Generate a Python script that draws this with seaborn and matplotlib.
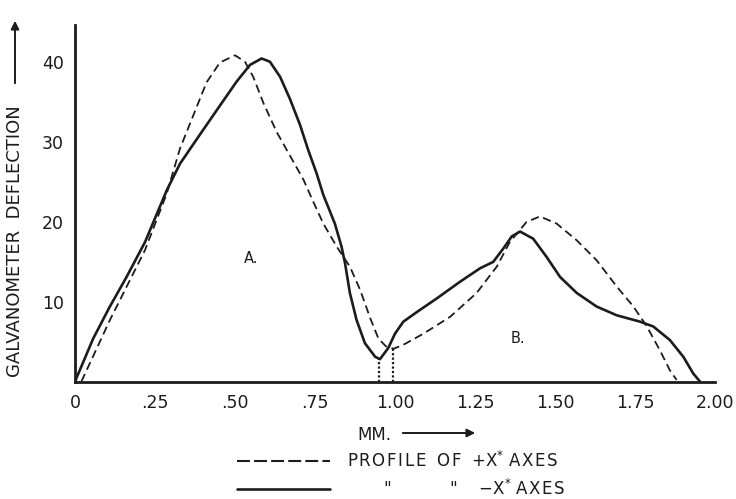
import matplotlib
matplotlib.use("Agg")
import matplotlib.pyplot as plt
from matplotlib.lines import Line2D
import seaborn as sns
import pandas as pd

# ---- data ----
solid_x = [0.0, 0.057, 0.109, 0.161, 0.219, 0.287, 0.328, 0.391, 0.453, 0.505,
           0.547, 0.583, 0.609, 0.641, 0.672, 0.703, 0.729, 0.755, 0.776, 0.812,
           0.833, 0.844, 0.859, 0.880, 0.906, 0.938, 0.953, 0.979, 1.000, 1.026,
           1.068, 1.130, 1.203, 1.266, 1.307, 1.339, 1.365, 1.391, 1.432, 1.474,
           1.516, 1.568, 1.630, 1.693, 1.766, 1.807, 1.859, 1.901, 1.932, 1.953]
solid_y = [0.0, 5.4, 9.4, 13.1, 17.5, 24.0, 27.3, 31.0, 34.6, 37.6,
           39.7, 40.5, 40.1, 38.2, 35.4, 32.2, 29.0, 26.1, 23.4, 19.8,
           16.9, 14.8, 11.1, 7.7, 4.8, 3.1, 2.8, 4.2, 6.0, 7.5,
           8.7, 10.4, 12.5, 14.2, 15.0, 16.7, 18.2, 18.8, 17.9, 15.6,
           13.1, 11.1, 9.4, 8.3, 7.5, 6.9, 5.2, 3.1, 1.0, 0.0]

dashed_x = [0.02, 0.109, 0.219, 0.287, 0.328, 0.370, 0.411, 0.453, 0.500, 0.531,
            0.557, 0.589, 0.630, 0.672, 0.714, 0.745, 0.776, 0.818, 0.859, 0.891,
            0.922, 0.948, 0.972, 0.995, 1.026, 1.089, 1.172, 1.255, 1.318, 1.359,
            1.411, 1.453, 1.505, 1.568, 1.630, 1.693, 1.745, 1.787, 1.828, 1.859,
            1.880]
dashed_y = [0.0, 7.7, 16.5, 23.6, 29.2, 33.4, 37.5, 40.0, 40.9, 40.1,
            38.2, 34.9, 31.3, 28.3, 25.3, 22.5, 19.8, 16.9, 14.4, 11.5,
            8.0, 5.4, 4.4, 4.1, 4.6, 6.0, 8.1, 11.1, 14.4, 17.5,
            20.0, 20.7, 19.8, 17.7, 15.2, 11.9, 9.4, 6.9, 3.9, 1.4,
            0.2]

# minima marked with dotted drop lines
minima_x = [0.950, 0.995]
minima_y = [2.8, 4.1]

x_ticks = [0, 0.25, 0.5, 0.75, 1.0, 1.25, 1.5, 1.75, 2.0]
x_ticklabels = ["0", ".25", ".50", ".75", "1.00", "1.25", "1.50", "1.75", "2.00"]
y_ticks = [10, 20, 30, 40]
y_ticklabels = ["10", "20", "30", "40"]

region_labels = ["A.", "B."]
region_pos = [(0.552, 15.4), (1.385, 5.4)]

HS = "\u200a"  # hair space used as letter spacing


def sp(word):
    return HS.join(word)


legend_labels = [f"{sp('PROFILE')}  {sp('OF')}  +X$^{{*}}$ {sp('AXES')}",
                 "       \"           \"    \u2212X$^{*}$ " + sp("AXES")]

# ---- drawing ----
sns.set_theme(style="white")
plt.rcParams["font.family"] = ["DejaVu Sans"]
ink = "#1c1c1c"

W, H = 736, 499
fig = plt.figure(figsize=(W / 100, H / 100), dpi=100)
fig.patch.set_facecolor("white")
ax = fig.add_axes([75 / W, 1 - 381.5 / H, (715 - 75) / W, (381.5 - 25) / H])
ax.set_facecolor("white")

df_d = pd.DataFrame({"x": dashed_x, "y": dashed_y})
df_s = pd.DataFrame({"x": solid_x, "y": solid_y})
sns.lineplot(data=df_d, x="x", y="y", ax=ax, color=ink, lw=1.3,
             estimator=None, sort=False, linestyle=(0, (4.6, 2.6)))
sns.lineplot(data=df_s, x="x", y="y", ax=ax, color=ink, lw=1.9,
             estimator=None, sort=False)

ax.vlines(minima_x, 0, minima_y, colors=ink, linestyles=(0, (1, 1)), lw=1.6)

for lab, (lx, ly) in zip(region_labels, region_pos):
    ax.text(lx, ly, lab, ha="center", va="center", fontsize=10.5, color=ink)

ax.set_xlim(0, 2.0)
ax.set_ylim(0, 44.7)
ax.set_xticks(x_ticks)
ax.set_xticklabels(x_ticklabels)
ax.set_yticks(y_ticks)
ax.set_yticklabels(y_ticklabels)
ax.tick_params(axis="both", direction="in", length=6, width=1.4, colors=ink,
               labelsize=12.5)
ax.tick_params(axis="x", pad=9)
ax.tick_params(axis="y", pad=8)
for s in ["top", "right"]:
    ax.spines[s].set_visible(False)
for s in ["left", "bottom"]:
    ax.spines[s].set_color(ink)
    ax.spines[s].set_linewidth(2.0)
ax.set_xlabel("")
ax.set_ylabel("")

# axis titles
fig.text(15 / W, 1 - 377 / H, "GALVANOMETER  DEFLECTION", rotation=90,
         ha="center", va="bottom", fontsize=13, color=ink)
ax.annotate("", xy=(15, H - 18), xytext=(15, H - 86), xycoords="figure pixels",
            textcoords="figure pixels",
            arrowprops=dict(arrowstyle="-|>", color=ink, lw=1.4,
                            mutation_scale=12))
fig.text(357 / W, 1 - 435 / H, "MM.", ha="left", va="center", fontsize=12,
         color=ink)
ax.annotate("", xy=(478, H - 433), xytext=(400, H - 433),
            xycoords="figure pixels", textcoords="figure pixels",
            arrowprops=dict(arrowstyle="-|>", color=ink, lw=1.4,
                            mutation_scale=12))

# legend (handles styled like the key in the reference)
h_d = Line2D([], [], color=ink, lw=1.5, linestyle=(0, (6.2, 2.0)))
h_s = Line2D([], [], color=ink, lw=1.9)
leg = ax.legend([h_d, h_s], legend_labels, loc="upper left",
                bbox_to_anchor=(237 / W, 1 - 451 / H),
                bbox_transform=fig.transFigure, frameon=False,
                handlelength=5.6, handletextpad=1.0, labelspacing=0.47,
                borderpad=0, borderaxespad=0, fontsize=12)
for t in leg.get_texts():
    t.set_color(ink)

fig.savefig("out.png", dpi=100, facecolor="white")
